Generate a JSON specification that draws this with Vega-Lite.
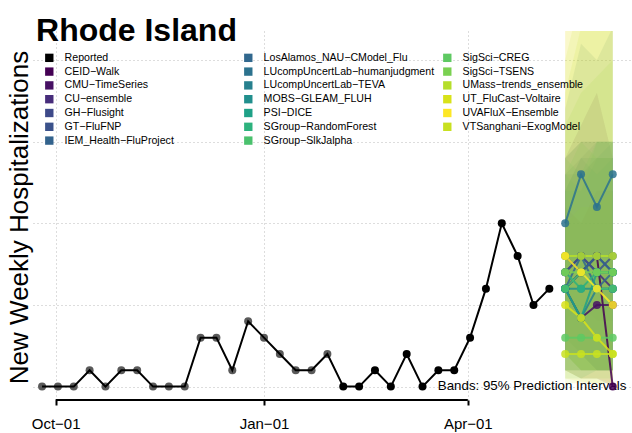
{
  "$schema": "https://vega.github.io/schema/vega-lite/v6.json",
  "width": 599,
  "height": 369,
  "autosize": {"type": "none"},
  "padding": {"left": 33, "top": 31, "right": 0, "bottom": 33},
  "background": "white",
  "config": {"view": {"stroke": null}, "font": "Liberation Sans"},
  "resolve": {"legend": {"color": "independent"}},
  "datasets": {
    "reported": [
      {"date": "2024-09-25T00:00", "value": 0},
      {"date": "2024-10-02T00:00", "value": 0},
      {"date": "2024-10-09T00:00", "value": 0},
      {"date": "2024-10-16T00:00", "value": 1},
      {"date": "2024-10-23T00:00", "value": 0},
      {"date": "2024-10-30T00:00", "value": 1},
      {"date": "2024-11-06T00:00", "value": 1},
      {"date": "2024-11-13T00:00", "value": 0},
      {"date": "2024-11-20T00:00", "value": 0},
      {"date": "2024-11-27T00:00", "value": 0},
      {"date": "2024-12-04T00:00", "value": 3},
      {"date": "2024-12-11T00:00", "value": 3},
      {"date": "2024-12-18T00:00", "value": 1},
      {"date": "2024-12-25T00:00", "value": 4},
      {"date": "2025-01-01T00:00", "value": 3},
      {"date": "2025-01-08T00:00", "value": 2},
      {"date": "2025-01-15T00:00", "value": 1},
      {"date": "2025-01-22T00:00", "value": 1},
      {"date": "2025-01-29T00:00", "value": 2},
      {"date": "2025-02-05T00:00", "value": 0},
      {"date": "2025-02-12T00:00", "value": 0},
      {"date": "2025-02-19T00:00", "value": 1},
      {"date": "2025-02-26T00:00", "value": 0},
      {"date": "2025-03-05T00:00", "value": 2},
      {"date": "2025-03-12T00:00", "value": 0},
      {"date": "2025-03-19T00:00", "value": 1},
      {"date": "2025-03-26T00:00", "value": 1},
      {"date": "2025-04-02T00:00", "value": 3},
      {"date": "2025-04-09T00:00", "value": 6},
      {"date": "2025-04-16T00:00", "value": 10},
      {"date": "2025-04-23T00:00", "value": 8},
      {"date": "2025-04-30T00:00", "value": 5},
      {"date": "2025-05-07T00:00", "value": 6}
    ],
    "forecast": [
      {"model": "CEID-Walk", "date": "2025-05-14T00:00", "value": 6, "lower": 1, "upper": 14},
      {"model": "CEID-Walk", "date": "2025-05-21T00:00", "value": 7, "lower": 0.5, "upper": 16},
      {"model": "CEID-Walk", "date": "2025-05-28T00:00", "value": 8, "lower": 0.5, "upper": 18},
      {"model": "CEID-Walk", "date": "2025-06-04T00:00", "value": 0, "lower": 0, "upper": 14},
      {"model": "CMU-TimeSeries", "date": "2025-05-14T00:00", "value": 6, "lower": 2, "upper": 11},
      {"model": "CMU-TimeSeries", "date": "2025-05-21T00:00", "value": 4.2, "lower": 1, "upper": 10},
      {"model": "CMU-TimeSeries", "date": "2025-05-28T00:00", "value": 5, "lower": 1, "upper": 12},
      {"model": "CMU-TimeSeries", "date": "2025-06-04T00:00", "value": 5, "lower": 1, "upper": 12},
      {"model": "CU-ensemble", "date": "2025-05-14T00:00", "value": 7, "lower": 2, "upper": 14},
      {"model": "CU-ensemble", "date": "2025-05-21T00:00", "value": 8, "lower": 2, "upper": 15},
      {"model": "CU-ensemble", "date": "2025-05-28T00:00", "value": 7, "lower": 1, "upper": 15},
      {"model": "CU-ensemble", "date": "2025-06-04T00:00", "value": 6, "lower": 1, "upper": 15},
      {"model": "GH-Flusight", "date": "2025-05-14T00:00", "value": 8, "lower": 3, "upper": 13},
      {"model": "GH-Flusight", "date": "2025-05-21T00:00", "value": 7, "lower": 2, "upper": 13},
      {"model": "GH-Flusight", "date": "2025-05-28T00:00", "value": 8, "lower": 2, "upper": 14},
      {"model": "GH-Flusight", "date": "2025-06-04T00:00", "value": 7, "lower": 2, "upper": 14},
      {"model": "GT-FluFNP", "date": "2025-05-14T00:00", "value": 7, "lower": 2, "upper": 13},
      {"model": "GT-FluFNP", "date": "2025-05-21T00:00", "value": 8, "lower": 2, "upper": 14},
      {"model": "GT-FluFNP", "date": "2025-05-28T00:00", "value": 7, "lower": 1, "upper": 14},
      {"model": "GT-FluFNP", "date": "2025-06-04T00:00", "value": 8, "lower": 1, "upper": 15},
      {"model": "IEM_Health-FluProject", "date": "2025-05-14T00:00", "value": 6, "lower": 1, "upper": 12},
      {"model": "IEM_Health-FluProject", "date": "2025-05-21T00:00", "value": 7, "lower": 1, "upper": 14},
      {"model": "IEM_Health-FluProject", "date": "2025-05-28T00:00", "value": 8, "lower": 1, "upper": 15},
      {"model": "IEM_Health-FluProject", "date": "2025-06-04T00:00", "value": 7, "lower": 1, "upper": 15},
      {"model": "LosAlamos_NAU-CModel_Flu", "date": "2025-05-14T00:00", "value": 6, "lower": 2, "upper": 12},
      {"model": "LosAlamos_NAU-CModel_Flu", "date": "2025-05-21T00:00", "value": 8, "lower": 2, "upper": 14},
      {"model": "LosAlamos_NAU-CModel_Flu", "date": "2025-05-28T00:00", "value": 6, "lower": 1, "upper": 13},
      {"model": "LosAlamos_NAU-CModel_Flu", "date": "2025-06-04T00:00", "value": 7, "lower": 1, "upper": 14},
      {"model": "LUcompUncertLab-humanjudgment", "date": "2025-05-14T00:00", "value": 10, "lower": 4, "upper": 17},
      {"model": "LUcompUncertLab-humanjudgment", "date": "2025-05-21T00:00", "value": 13, "lower": 5, "upper": 21},
      {"model": "LUcompUncertLab-humanjudgment", "date": "2025-05-28T00:00", "value": 11, "lower": 4, "upper": 20},
      {"model": "LUcompUncertLab-humanjudgment", "date": "2025-06-04T00:00", "value": 13, "lower": 4, "upper": 22},
      {"model": "LUcompUncertLab-TEVA", "date": "2025-05-14T00:00", "value": 6, "lower": 2, "upper": 12},
      {"model": "LUcompUncertLab-TEVA", "date": "2025-05-21T00:00", "value": 4.2, "lower": 1, "upper": 12},
      {"model": "LUcompUncertLab-TEVA", "date": "2025-05-28T00:00", "value": 6, "lower": 1, "upper": 14},
      {"model": "LUcompUncertLab-TEVA", "date": "2025-06-04T00:00", "value": 6, "lower": 1, "upper": 14},
      {"model": "MOBS-GLEAM_FLUH", "date": "2025-05-14T00:00", "value": 6, "lower": 1, "upper": 14},
      {"model": "MOBS-GLEAM_FLUH", "date": "2025-05-21T00:00", "value": 6, "lower": 1, "upper": 15},
      {"model": "MOBS-GLEAM_FLUH", "date": "2025-05-28T00:00", "value": 6, "lower": 1, "upper": 15},
      {"model": "MOBS-GLEAM_FLUH", "date": "2025-06-04T00:00", "value": 6, "lower": 1, "upper": 15},
      {"model": "PSI-DICE", "date": "2025-05-14T00:00", "value": 6, "lower": 1, "upper": 13},
      {"model": "PSI-DICE", "date": "2025-05-21T00:00", "value": 4.2, "lower": 0.5, "upper": 12},
      {"model": "PSI-DICE", "date": "2025-05-28T00:00", "value": 7, "lower": 1, "upper": 15},
      {"model": "PSI-DICE", "date": "2025-06-04T00:00", "value": 7, "lower": 1, "upper": 15},
      {"model": "SGroup-RandomForest", "date": "2025-05-14T00:00", "value": 7, "lower": 2, "upper": 14},
      {"model": "SGroup-RandomForest", "date": "2025-05-21T00:00", "value": 6, "lower": 1, "upper": 13},
      {"model": "SGroup-RandomForest", "date": "2025-05-28T00:00", "value": 7, "lower": 1, "upper": 15},
      {"model": "SGroup-RandomForest", "date": "2025-06-04T00:00", "value": 7, "lower": 1, "upper": 15},
      {"model": "SGroup-SlkJalpha", "date": "2025-05-14T00:00", "value": 6, "lower": 1, "upper": 13},
      {"model": "SGroup-SlkJalpha", "date": "2025-05-21T00:00", "value": 7, "lower": 1, "upper": 15},
      {"model": "SGroup-SlkJalpha", "date": "2025-05-28T00:00", "value": 6, "lower": 1, "upper": 14},
      {"model": "SGroup-SlkJalpha", "date": "2025-06-04T00:00", "value": 6, "lower": 1, "upper": 14},
      {"model": "SigSci-CREG", "date": "2025-05-14T00:00", "value": 3, "lower": 0.5, "upper": 10},
      {"model": "SigSci-CREG", "date": "2025-05-21T00:00", "value": 3, "lower": 0.5, "upper": 11},
      {"model": "SigSci-CREG", "date": "2025-05-28T00:00", "value": 3, "lower": 0.5, "upper": 11},
      {"model": "SigSci-CREG", "date": "2025-06-04T00:00", "value": 3, "lower": 0.5, "upper": 12},
      {"model": "SigSci-TSENS", "date": "2025-05-14T00:00", "value": 7, "lower": 1, "upper": 16},
      {"model": "SigSci-TSENS", "date": "2025-05-21T00:00", "value": 7, "lower": 1, "upper": 18},
      {"model": "SigSci-TSENS", "date": "2025-05-28T00:00", "value": 7, "lower": 1, "upper": 19},
      {"model": "SigSci-TSENS", "date": "2025-06-04T00:00", "value": 7, "lower": 1, "upper": 20},
      {"model": "UMass-trends_ensemble", "date": "2025-05-14T00:00", "value": 8, "lower": 2, "upper": 20},
      {"model": "UMass-trends_ensemble", "date": "2025-05-21T00:00", "value": 8, "lower": 1, "upper": 24},
      {"model": "UMass-trends_ensemble", "date": "2025-05-28T00:00", "value": 8, "lower": 1, "upper": 27},
      {"model": "UMass-trends_ensemble", "date": "2025-06-04T00:00", "value": 8, "lower": 1, "upper": 30},
      {"model": "UT_FluCast-Voltaire", "date": "2025-05-14T00:00", "value": 5, "lower": 0.5, "upper": 22},
      {"model": "UT_FluCast-Voltaire", "date": "2025-05-21T00:00", "value": 4.2, "lower": 0.3, "upper": 25},
      {"model": "UT_FluCast-Voltaire", "date": "2025-05-28T00:00", "value": 3, "lower": 0.2, "upper": 28},
      {"model": "UT_FluCast-Voltaire", "date": "2025-06-04T00:00", "value": 2, "lower": 0.2, "upper": 30},
      {"model": "UVAFluX-Ensemble", "date": "2025-05-14T00:00", "value": 8, "lower": 1, "upper": 24},
      {"model": "UVAFluX-Ensemble", "date": "2025-05-21T00:00", "value": 7, "lower": 0.5, "upper": 28},
      {"model": "UVAFluX-Ensemble", "date": "2025-05-28T00:00", "value": 6, "lower": 0.5, "upper": 30},
      {"model": "UVAFluX-Ensemble", "date": "2025-06-04T00:00", "value": 5, "lower": 0.2, "upper": 32},
      {"model": "VTSanghani-ExogModel", "date": "2025-05-14T00:00", "value": 2, "lower": 0.2, "upper": 18},
      {"model": "VTSanghani-ExogModel", "date": "2025-05-21T00:00", "value": 2, "lower": 0.2, "upper": 22},
      {"model": "VTSanghani-ExogModel", "date": "2025-05-28T00:00", "value": 2, "lower": 0.2, "upper": 25},
      {"model": "VTSanghani-ExogModel", "date": "2025-06-04T00:00", "value": 2, "lower": 0.2, "upper": 28}
    ]
  },
  "layer": [
    {
      "data": {"name": "forecast"},
      "mark": {"type": "area", "fillOpacity": 0.12, "clip": true, "stroke": null},
      "encoding": {
        "x": {"field": "date", "type": "temporal"},
        "y": {"field": "lower", "type": "quantitative"},
        "y2": {"field": "upper"},
        "color": {"field": "model", "type": "nominal", "legend": null}
      }
    },
    {
      "data": {"values": [{"label": "Bands: 95% Prediction Intervals"}]},
      "mark": {"type": "text", "align": "right", "baseline": "alphabetic", "fontSize": 13.3, "font": "Liberation Sans", "color": "black"},
      "encoding": {
        "x": {"datum": {"year": 2025, "month": 6, "date": 10}, "type": "temporal"},
        "y": {"datum": -0.2, "type": "quantitative"},
        "text": {"field": "label"}
      }
    },
    {
      "data": {"values": [{"label": "Rhode Island"}]},
      "mark": {"type": "text", "align": "left", "baseline": "alphabetic", "fontSize": 32, "font": "Liberation Sans", "fontWeight": "bold", "color": "black"},
      "encoding": {
        "x": {"datum": {"year": 2024, "month": 9, "date": 22, "hours": 8}, "type": "temporal"},
        "y": {"datum": 21.18, "type": "quantitative"},
        "text": {"field": "label"}
      }
    },
    {
      "data": {"name": "reported"},
      "mark": {"type": "circle", "size": 64, "opacity": 1},
      "encoding": {
        "x": {"field": "date", "type": "temporal"},
        "y": {"field": "value", "type": "quantitative"},
        "color": {"condition": {"test": "time(datum.date) < time(datetime(2025,1,1))", "value": "#5a5a5a"}, "value": "black"}
      }
    },
    {
      "data": {"name": "reported"},
      "mark": {"type": "line", "color": "black", "strokeWidth": 2},
      "encoding": {
        "x": {
          "field": "date",
          "type": "temporal",
          "scale": {"domain": [{"year": 2024, "month": 9, "date": 21}, {"year": 2025, "month": 6, "date": 12, "hours": 12}], "nice": false},
          "axis": {
            "values": [{"year": 2024, "month": 10, "date": 1}, {"year": 2025, "month": 1, "date": 1}, {"year": 2025, "month": 4, "date": 1}],
            "format": "%b−%d",
            "title": null,
            "grid": true,
            "gridDash": [1, 3],
            "gridColor": "#bbbbbb",
            "gridWidth": 1,
            "domain": false,
            "tickColor": "black",
            "tickWidth": 2,
            "tickSize": 5,
            "labelFontSize": 15,
            "labelColor": "black",
            "labelFont": "Liberation Sans",
            "labelBaseline": "alphabetic",
            "labelPadding": 23,
            "labelFlush": false
          }
        },
        "y": {
          "field": "value",
          "type": "quantitative",
          "scale": {"domain": [-0.82, 21.78], "nice": false, "zero": false},
          "axis": {
            "title": "New Weekly Hospitalizations",
            "values": [0, 5, 10, 15, 20],
            "labels": false,
            "ticks": false,
            "domain": false,
            "grid": true,
            "gridDash": [1, 3],
            "gridColor": "#bbbbbb",
            "gridWidth": 1,
            "titleFontSize": 26,
            "titleFontWeight": "normal",
            "titleColor": "black",
            "titleFont": "Liberation Sans",
            "titleX": -6,
            "titleY": 186,
            "titleAngle": -90,
            "titleBaseline": "alphabetic",
            "titleAlign": "center"
          }
        }
      }
    },
    {
      "data": {"name": "forecast"},
      "mark": {"type": "line", "strokeWidth": 2, "opacity": 0.85},
      "encoding": {
        "x": {"field": "date", "type": "temporal"},
        "y": {"field": "value", "type": "quantitative"},
        "color": {"field": "model", "type": "nominal", "legend": null}
      }
    },
    {
      "data": {"name": "forecast"},
      "mark": {"type": "circle", "size": 64, "opacity": 0.85},
      "encoding": {
        "x": {"field": "date", "type": "temporal"},
        "y": {"field": "value", "type": "quantitative"},
        "color": {
          "field": "model",
          "type": "nominal",
          "scale": {
            "domain": ["Reported", "CEID-Walk", "CMU-TimeSeries", "CU-ensemble", "GH-Flusight", "GT-FluFNP", "IEM_Health-FluProject",
                       "LosAlamos_NAU-CModel_Flu", "LUcompUncertLab-humanjudgment", "LUcompUncertLab-TEVA", "MOBS-GLEAM_FLUH", "PSI-DICE", "SGroup-RandomForest", "SGroup-SlkJalpha",
                       "SigSci-CREG", "SigSci-TSENS", "UMass-trends_ensemble", "UT_FluCast-Voltaire", "UVAFluX-Ensemble", "VTSanghani-ExogModel"],
            "range": ["#000000", "#440154", "#471164", "#472D7B", "#3E4A89", "#3B528B", "#33638D",
                      "#31688E", "#2C728E", "#27808E", "#218F8D", "#1FA187", "#2DB27D", "#4AC16D",
                      "#5EC962", "#7AD151", "#B5DE2B", "#D8E219", "#FDE725", "#C8E020"]
          },
          "legend": {
            "title": null,
            "orient": "none",
            "legendX": 11,
            "legendY": 21.5,
            "columns": 3,
            "gridAlign": "all",
            "columnPadding": 7,
            "rowPadding": 2.8,
            "padding": 0,
            "symbolType": "square",
            "symbolSize": 70,
            "symbolOpacity": 1,
            "symbolStrokeWidth": 0,
            "labelFontSize": 10.6,
            "labelFont": "Liberation Sans",
            "labelColor": "black",
            "labelOffset": 10,
            "labelLimit": 400,
            "labelExpr": "replace(datum.label, '-', '−')"
          }
        }
      }
    },
    {
      "data": {"values": [{}]},
      "mark": {"type": "rule", "color": "black", "strokeWidth": 2},
      "encoding": {
        "x": {"datum": {"year": 2024, "month": 10, "date": 1}, "type": "temporal"},
        "x2": {"datum": {"year": 2025, "month": 4, "date": 1}},
        "y": {"datum": -0.82, "type": "quantitative"}
      }
    }
  ]
}
